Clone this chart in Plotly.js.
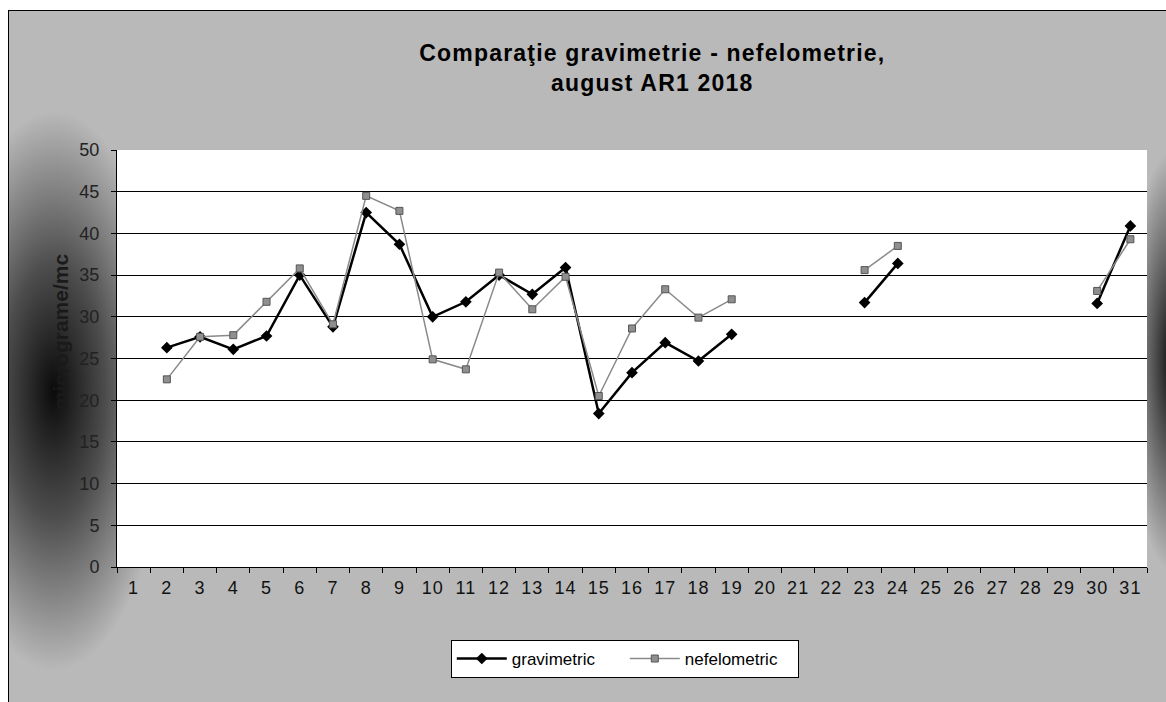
<!DOCTYPE html>
<html>
<head>
<meta charset="utf-8">
<script src="https://cdn.plot.ly/plotly-3.0.1.min.js"></script>
<style>
  html, body { margin:0; padding:0; background:#ffffff; width:1166px; height:702px; overflow:hidden; }
  #frame {
    position:absolute; left:8px; top:10px; width:1170px; height:700px;
    border:1px solid #000;
    background:
      radial-gradient(ellipse 115px 280px at 45px 380px, rgba(5,5,5,0.97), rgba(5,5,5,0.6) 45%, rgba(5,5,5,0) 100%),
      radial-gradient(ellipse 45px 210px at 1163px 350px, rgba(5,5,5,0.95), rgba(5,5,5,0) 100%),
      #b9b9b9;
  }
  #chart { position:absolute; left:0; top:0; width:1157px; height:691px; }
  #chart .gtitle { letter-spacing: 1.2px; }
  #chart .xtick text { letter-spacing: 1px; }
</style>
</head>
<body>
<div id="frame"><div id="chart"></div></div>
<script>
const days = ['1','2','3','4','5','6','7','8','9','10','11','12','13','14','15','16','17','18','19','20','21','22','23','24','25','26','27','28','29','30','31'];
const gravimetric = [null,26.3,27.6,26.1,27.7,35.0,28.8,42.5,38.7,30.0,31.8,35.0,32.7,35.9,18.4,23.3,26.9,24.7,27.9,null,null,null,31.7,36.4,null,null,null,null,null,31.6,40.9];
const nefelometric = [null,22.5,27.6,27.8,31.8,35.8,29.1,44.5,42.7,24.9,23.7,35.3,30.9,34.8,20.5,28.6,33.3,29.9,32.1,null,null,null,35.6,38.5,null,null,null,null,null,33.1,39.3];
const yTicks = [0,5,10,15,20,25,30,35,40,45,50];

const traces = [
  {
    x: days, y: gravimetric, name: 'gravimetric', type: 'scatter', mode: 'lines+markers',
    connectgaps: false,
    line: {color: '#000000', width: 2.5},
    marker: {symbol: 'diamond', size: 9, color: '#000000'}
  },
  {
    x: days, y: nefelometric, name: 'nefelometric', type: 'scatter', mode: 'lines+markers',
    connectgaps: false,
    line: {color: '#8a8a8a', width: 1.5},
    marker: {symbol: 'square', size: 7, color: '#8f8f8f', line: {color: '#555555', width: 1}}
  }
];

const layout = {
  width: 1157, height: 691,
  paper_bgcolor: 'rgba(0,0,0,0)',
  plot_bgcolor: '#ffffff',
  margin: {l: 108, r: 19, t: 139, b: 135},
  font: {family: '"Liberation Sans", Arial, sans-serif', color: '#000'},
  title: {
    text: '<b>Comparaţie gravimetrie - nefelometrie,<br>august AR1 2018</b>',
    font: {size: 23, color: '#000'},
    x: 0.556, xref: 'container', xanchor: 'center',
    y: 0.927, yref: 'container', yanchor: 'middle'
  },
  xaxis: {
    type: 'category',
    tickvals: days, ticktext: days,
    range: [-0.5, 30.5],
    tickson: 'boundaries',
    ticks: 'outside', ticklen: 5, tickcolor: '#000',
    ticklabelstandoff: 4,
    showline: true, linecolor: '#000', linewidth: 1,
    showgrid: false, zeroline: false,
    tickfont: {size: 18, color: '#111'}
  },
  yaxis: {
    range: [0, 50],
    tickvals: yTicks,
    ticks: 'outside', ticklen: 5, tickcolor: '#000',
    ticklabelstandoff: 8,
    showline: true, linecolor: '#000', linewidth: 1,
    showgrid: true, gridcolor: '#000', gridwidth: 1,
    zeroline: false,
    tickfont: {size: 18, color: '#222'}
  },
  annotations: [{
    text: '<b>micrograme/mc</b>',
    xref: 'paper', yref: 'paper',
    x: -0.0545, y: 0.565, xanchor: 'center', yanchor: 'middle',
    textangle: -90, showarrow: false,
    font: {size: 21, color: '#1a1a1a'}
  }],
  showlegend: true,
  legend: {
    orientation: 'h',
    x: 0.493, xanchor: 'center',
    y: -0.175, yanchor: 'top',
    bgcolor: '#ffffff',
    bordercolor: '#000', borderwidth: 1,
    font: {size: 17, color: '#000'},
    entrywidth: 108, entrywidthmode: 'pixels',
    itemwidth: 50
  }
};

Plotly.newPlot('chart', traces, layout, {displayModeBar: false, staticPlot: true});
</script>
</body>
</html>
